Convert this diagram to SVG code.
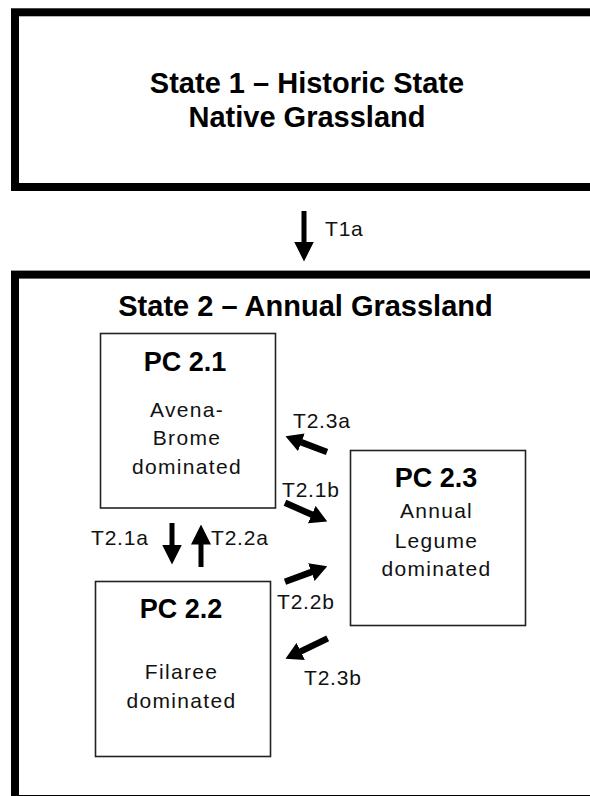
<svg xmlns="http://www.w3.org/2000/svg" width="590" height="796" viewBox="0 0 590 796">
<style>
.state{fill:#fff;stroke:#000;stroke-width:8}
.pc{fill:#fff;stroke:#222;stroke-width:1.6}
.title{font-family:"Liberation Sans",Arial,sans-serif;font-weight:bold;font-size:29px;fill:#000;text-anchor:middle}
.pct{font-family:"Liberation Sans",Arial,sans-serif;font-weight:bold;font-size:27px;fill:#000;text-anchor:middle}
.body{font-family:"Liberation Sans",Arial,sans-serif;font-size:21px;letter-spacing:1.3px;fill:#111;text-anchor:middle}
.lbl{font-family:"Liberation Sans",Arial,sans-serif;font-size:21px;letter-spacing:0.8px;fill:#111}
.arr{stroke:#000;stroke-width:5;fill:none}
.arrd{stroke:#000;stroke-width:6.5;fill:none}
</style>
<defs>
<marker id="ah" viewBox="0 0 20 20" markerUnits="userSpaceOnUse" markerWidth="20" markerHeight="20" refX="0.5" refY="10" orient="auto"><path d="M0,0 L20,10 L0,20 z" fill="#000"/></marker>
<marker id="ahd" viewBox="0 0 17 19" markerUnits="userSpaceOnUse" markerWidth="17" markerHeight="19" refX="0.5" refY="9.5" orient="auto"><path d="M0,0 L17,9.5 L0,19 z" fill="#000"/></marker>
</defs>
<rect width="590" height="796" fill="#fff"/>
<g id="state1">
<rect class="state" x="15" y="12.3" width="600" height="174.7"/>
<text class="title" x="307" y="93">State 1 – Historic State</text>
<text class="title" x="307" y="127">Native Grassland</text>
</g>
<g id="state2">
<rect class="state" x="15" y="274.6" width="600" height="524.4"/>
<text class="title" x="305.5" y="316">State 2 – Annual Grassland</text>
</g>
<g id="pc21">
<rect class="pc" x="100.5" y="333.5" width="175" height="174.5"/>
<text class="pct" x="185" y="371">PC 2.1</text>
<text class="body" x="187" y="417">Avena-</text>
<text class="body" x="187" y="445">Brome</text>
<text class="body" x="187" y="474">dominated</text>
</g>
<g id="pc22">
<rect class="pc" x="95.5" y="581.5" width="175" height="175"/>
<text class="pct" x="181" y="618">PC 2.2</text>
<text class="body" x="181.5" y="679">Filaree</text>
<text class="body" x="181.5" y="708">dominated</text>
</g>
<g id="pc23">
<rect class="pc" x="350.5" y="450.5" width="175" height="175"/>
<text class="pct" x="436" y="487">PC 2.3</text>
<text class="body" x="436.5" y="518">Annual</text>
<text class="body" x="436.5" y="548">Legume</text>
<text class="body" x="436.5" y="576">dominated</text>
</g>
<g id="connectors">
<line class="arr" x1="304" y1="211" x2="304" y2="242" marker-end="url(#ah)"/>
<text class="lbl" x="325" y="236">T1a</text>
<line class="arr" x1="172" y1="523" x2="172" y2="545" marker-end="url(#ah)"/>
<text class="lbl" x="91" y="545">T2.1a</text>
<line class="arr" x1="201" y1="567" x2="201" y2="544" marker-end="url(#ah)"/>
<text class="lbl" x="211" y="545">T2.2a</text>
<line class="arrd" x1="327" y1="452" x2="300.9" y2="442.1" marker-end="url(#ahd)"/>
<text class="lbl" x="293" y="428">T2.3a</text>
<line class="arrd" x1="285" y1="502.7" x2="312.2" y2="514.8" marker-end="url(#ahd)"/>
<text class="lbl" x="282" y="497">T2.1b</text>
<line class="arrd" x1="285" y1="581.7" x2="311.8" y2="571.9" marker-end="url(#ahd)"/>
<text class="lbl" x="277" y="609">T2.2b</text>
<line class="arrd" x1="327.7" y1="638.3" x2="300.3" y2="651.6" marker-end="url(#ahd)"/>
<text class="lbl" x="304" y="685">T2.3b</text>
</g>
</svg>
